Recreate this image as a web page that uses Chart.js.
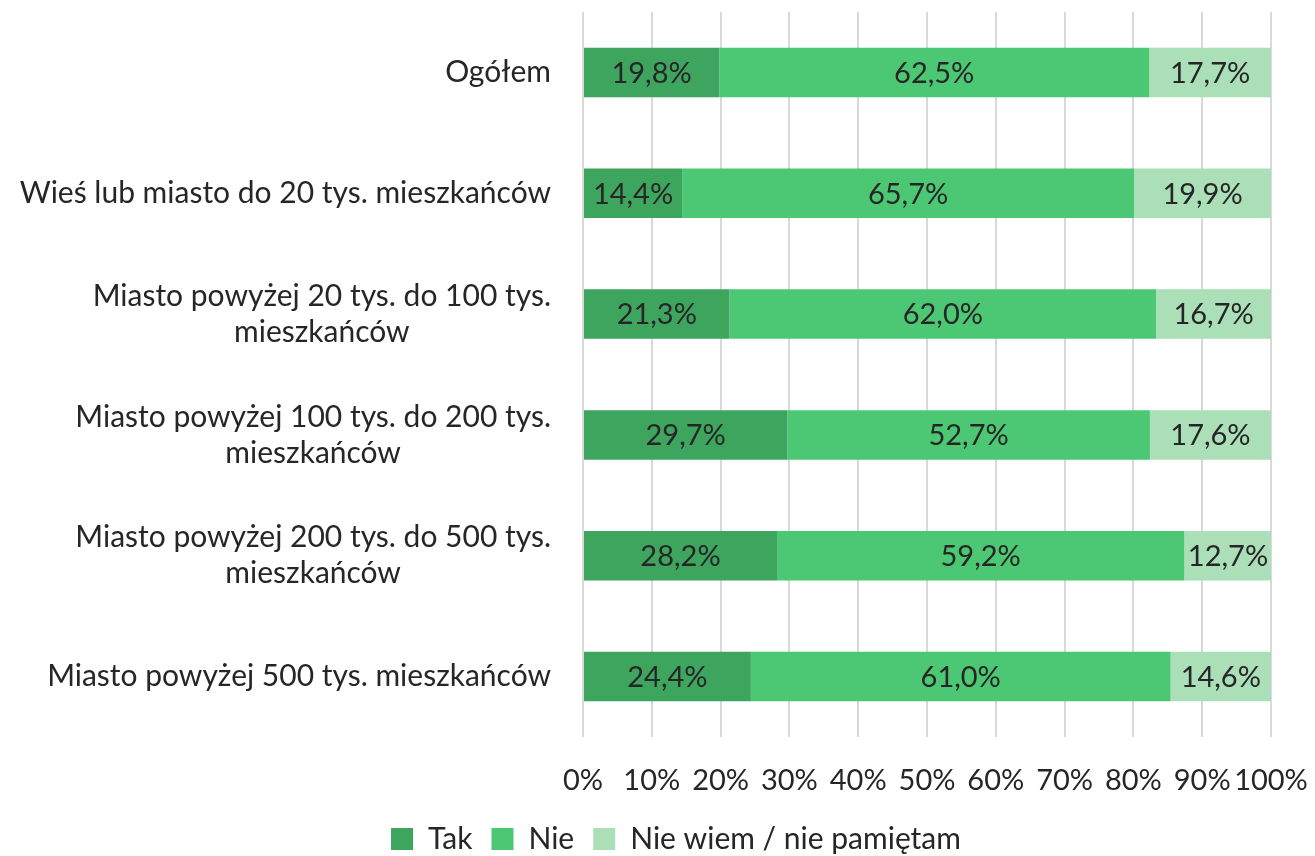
<!DOCTYPE html>
<html>
<head>
<meta charset="utf-8">
<script src="https://cdn.jsdelivr.net/npm/chart.js@4"></script>
<style>
  html, body { margin: 0; padding: 0; background: #fff; }
  #wrap { width: 1315px; height: 856px; }
</style>
</head>
<body>
<div id="wrap"><canvas id="chart"></canvas></div>
<script>
// categories (multi-line ones are arrays)
const categories = [
  'Ogółem',
  'Wieś lub miasto do 20 tys. mieszkańców',
  ['Miasto powyżej 20 tys. do 100 tys.', 'mieszkańców'],
  ['Miasto powyżej 100 tys. do 200 tys.', 'mieszkańców'],
  ['Miasto powyżej 200 tys. do 500 tys.', 'mieszkańców'],
  'Miasto powyżej 500 tys. mieszkańców'
];
const tak = [19.8, 14.4, 21.3, 29.7, 28.2, 24.4];
const nie = [62.5, 65.7, 62.0, 52.7, 59.2, 61.0];
const nieWiem = [17.7, 19.9, 16.7, 17.6, 12.7, 14.6];
const seriesNames = ['Tak', 'Nie', 'Nie wiem / nie pamiętam'];

const FONT = 'Lato, "Open Sans", sans-serif';
const SIZE = 29;
const TEXT = '#262626';

function pct(v) {
  return v.toFixed(1).replace('.', ',') + '%';
}

// value labels inside the bars
const barLabels = {
  id: 'barLabels',
  afterDatasetsDraw(chart) {
    const ctx = chart.ctx;
    ctx.save();
    ctx.font = SIZE + 'px ' + FONT;
    ctx.fillStyle = TEXT;
    ctx.textAlign = 'center';
    ctx.textBaseline = 'middle';
    chart.data.datasets.forEach((ds, i) => {
      chart.getDatasetMeta(i).data.forEach((bar, j) => {
        const cx = (bar.x + bar.base) / 2;
        ctx.fillText(pct(ds.data[j]), cx, bar.y + 1);
      });
    });
    ctx.restore();
  }
};

// category labels: block right-aligned, lines centred within it
const catLabels = {
  id: 'catLabels',
  afterDraw(chart) {
    const ctx = chart.ctx;
    const y = chart.scales.y;
    const right = chart.chartArea.left - 32;
    ctx.save();
    ctx.font = '30px ' + FONT;
    ctx.fillStyle = TEXT;
    ctx.textAlign = 'center';
    ctx.textBaseline = 'middle';
    categories.forEach((c, i) => {
      const lines = Array.isArray(c) ? c : [c];
      const w = Math.max(...lines.map(l => ctx.measureText(l).width));
      const cx = right - w / 2;
      const cy = y.getPixelForValue(i);
      const lh = 36;
      lines.forEach((l, k) => {
        ctx.fillText(l, cx, cy + (k - (lines.length - 1) / 2) * lh);
      });
    });
    ctx.restore();
  }
};

new Chart(document.getElementById('chart'), {
  type: 'bar',
  data: {
    labels: categories,
    datasets: [
      { label: seriesNames[0], data: tak, backgroundColor: '#3ea55f' },
      { label: seriesNames[1], data: nie, backgroundColor: '#4cc874' },
      { label: seriesNames[2], data: nieWiem, backgroundColor: '#aadfb8' }
    ]
  },
  options: {
    indexAxis: 'y',
    responsive: true,
    maintainAspectRatio: false,
    animation: false,
    layout: { padding: { top: 12, right: 44, left: 81, bottom: -8 } },
    datasets: { bar: { barPercentage: 0.41, categoryPercentage: 1.0 } },
    scales: {
      x: {
        stacked: true,
        min: 0,
        max: 100,
        afterFit: s => { s.paddingLeft = 0; s.paddingRight = 0; s.height = 68; },
        ticks: {
          stepSize: 10,
          callback: v => v + '%',
          color: TEXT,
          font: { family: FONT, size: SIZE },
          padding: 26,
          maxRotation: 0,
          autoSkip: false
        },
        grid: { color: '#d9d9d9', lineWidth: 2, drawTicks: false },
        border: { display: false }
      },
      y: {
        stacked: true,
        afterFit: s => { s.width = 502; },
        ticks: { display: false },
        grid: { display: false },
        border: { display: false }
      }
    },
    plugins: {
      legend: {
        position: 'bottom',
        labels: {
          boxWidth: 22,
          boxHeight: 22,
          padding: 19,
          color: TEXT,
          font: { family: FONT, size: 30 }
        }
      },
      tooltip: { enabled: false }
    }
  },
  plugins: [barLabels, catLabels]
});
</script>
</body>
</html>
